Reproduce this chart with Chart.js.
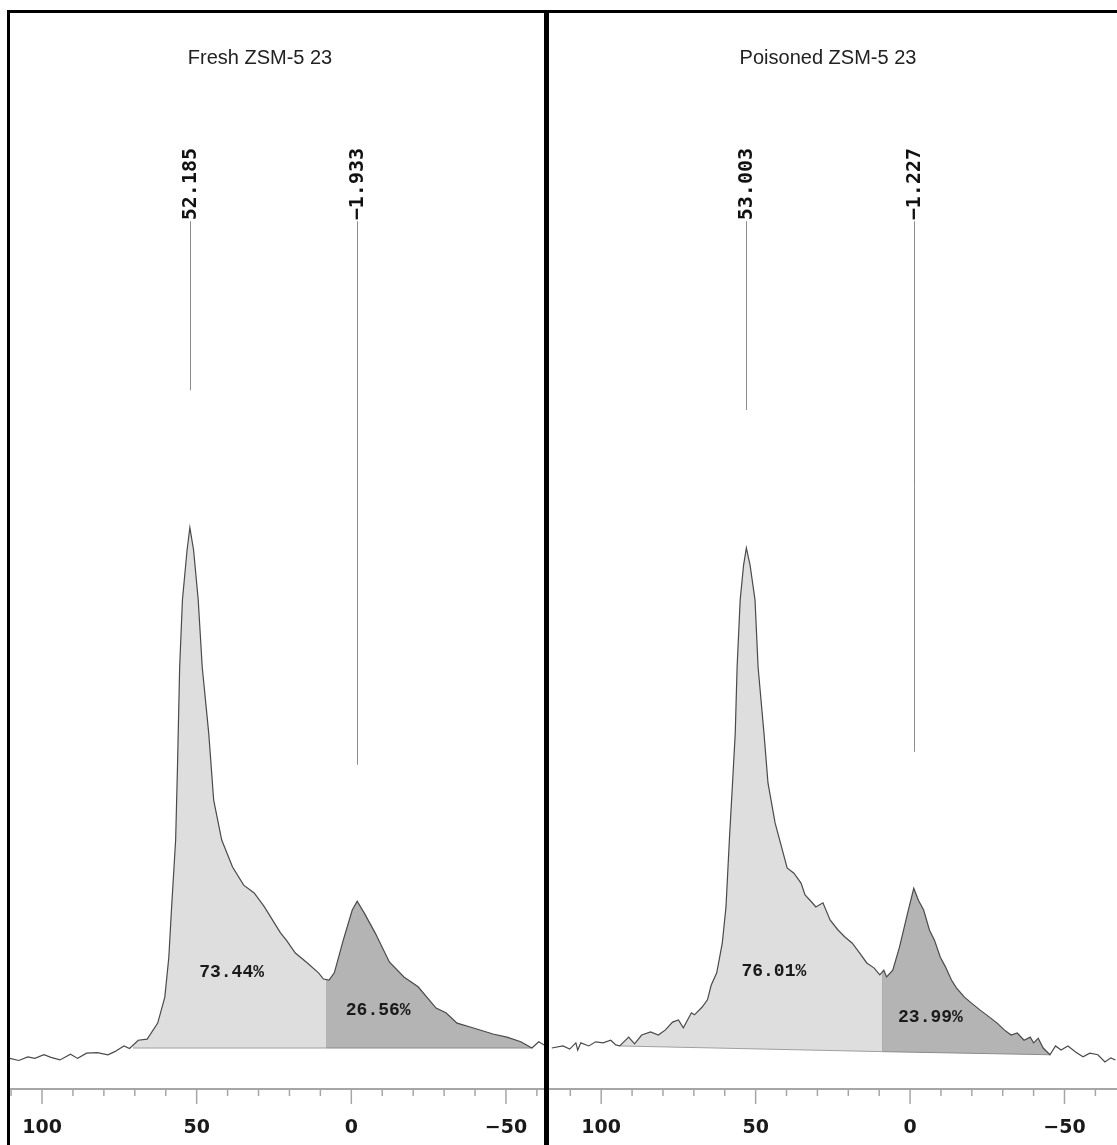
<!DOCTYPE html>
<html>
<head>
<meta charset="utf-8">
<script src="https://cdn.jsdelivr.net/npm/chart.js@4.4.1/dist/chart.umd.min.js"></script>
<style>
  html, body { margin: 0; padding: 0; background: #fff; }
  body { width: 1117px; height: 1145px; position: relative; overflow: hidden; }
  canvas { position: absolute; }
  #frame { position: absolute; left: 7px; top: 10px; width: 1200px; height: 1200px;
           border-left: 3px solid #000; border-top: 3px solid #000; box-sizing: border-box; }
  #divider { position: absolute; left: 544px; top: 10px; width: 5px; height: 1140px; background: #000; }
</style>
</head>
<body>
<canvas id="fresh" width="536" height="1135" style="left:8px;top:10px"></canvas>
<canvas id="poisoned" width="568" height="1135" style="left:549px;top:10px"></canvas>
<div id="frame"></div>
<div id="divider"></div>
<script>
// chemical shift (ppm) and intensity (a.u.)
const freshPpm = [110.4, 107.5, 104.6, 102.3, 99.4, 97.1, 94.2, 90.8, 88.5, 85.6,
  82.1, 78.7, 76.5, 73.5, 71.7, 68.9, 66.0, 62.6, 60.3, 59.0,
  58.1, 56.8, 56.2, 55.5, 54.6, 53.1, 52.2, 51.0, 49.5, 48.2,
  46.1, 44.5, 41.9, 38.4, 34.8, 31.4, 28.1, 22.9, 21.0, 18.1,
  14.2, 10.6, 9.0, 7.2, 5.5, 2.6, -0.3, -1.9, -4.2, -7.7,
  -12.3, -17.0, -21.6, -27.4, -30.6, -34.2, -38.7, -45.8, -50.3, -54.8,
  -58.4, -60.6, -63.5];
const freshIntensity = [-2.1, -2.5, -1.8, -2.1, -1.4, -1.9, -2.4, -1.3, -2.1, -1.1,
  -1.0, -1.4, -0.8, 0.3, -0.2, 1.4, 1.6, 4.7, 9.7, 17.4,
  27.1, 40.0, 54.1, 73.3, 86.3, 95.9, 100.2, 95.9, 86.3, 73.3,
  60.6, 47.7, 40.0, 34.8, 31.3, 29.8, 27.1, 22.1, 20.7, 18.2,
  16.3, 14.4, 13.2, 13.0, 14.4, 20.7, 26.5, 28.2, 25.9, 22.1,
  16.5, 13.6, 11.7, 7.6, 6.7, 4.7, 3.9, 2.6, 2.0, 1.1,
  -0.1, 1.1, 0.1];

const poisonedPpm = [116.0, 112.4, 110.2, 108.2, 107.6, 106.6, 104.0, 101.8, 99.4, 96.9,
  95.3, 94.0, 91.1, 89.2, 86.9, 84.0, 81.5, 79.2, 76.9, 75.0,
  73.4, 70.8, 69.8, 67.3, 65.6, 64.4, 62.6, 60.8, 59.6, 58.5,
  57.3, 56.6, 56.0, 55.0, 53.9, 53.0, 51.8, 50.2, 49.2, 47.3,
  46.0, 43.7, 41.1, 39.8, 37.6, 35.3, 34.0, 31.8, 30.5, 28.2,
  25.9, 23.4, 21.1, 18.7, 16.3, 14.0, 11.6, 9.8, 8.5, 7.6,
  5.6, 3.4, 0.8, -1.2, -2.7, -4.4, -6.3, -7.9, -9.8, -11.5,
  -13.4, -15.0, -17.6, -19.8, -22.7, -25.6, -28.2, -30.5, -32.7, -34.7,
  -36.9, -38.9, -40.0, -41.5, -43.1, -45.3, -47.1, -48.9, -51.1, -53.7,
  -56.0, -58.2, -60.8, -63.1, -65.0, -66.5];
const poisonedIntensity = [-0.1, 0.3, -0.3, 0.9, -0.5, 0.9, 0.3, 1.1, 0.9, 1.4,
  0.5, 0.3, 2.0, 0.7, 2.4, 3.0, 2.4, 3.4, 4.9, 5.3,
  3.8, 6.7, 6.3, 7.8, 9.2, 12.0, 14.4, 20.1, 27.1, 40.0,
  52.9, 60.6, 73.3, 86.3, 93.0, 96.3, 93.0, 86.3, 73.3, 60.6,
  51.0, 43.3, 37.5, 34.6, 33.6, 31.7, 29.4, 28.0, 27.1, 27.9,
  24.6, 22.7, 21.3, 20.1, 18.2, 16.3, 15.3, 14.0, 14.9, 13.6,
  14.9, 19.4, 25.9, 30.7, 28.4, 26.5, 22.6, 20.7, 17.4, 15.5,
  13.0, 11.5, 9.7, 8.6, 7.2, 5.9, 4.7, 3.4, 2.4, 2.8,
  1.4, 2.0, 0.9, 1.8, -0.1, -1.4, 0.3, -0.5, 0.3, -0.9,
  -1.8, -1.1, -1.4, -2.8, -2.0, -2.4];

// integration regions: start, split, end (ppm) and baseline intensity there
const freshRegion = [70.6, 8.1, -58.4];
const freshRegionBase = [-0.1, -0.1, -0.1];
const poisonedRegion = [94.0, 8.9, -45.3];
const poisonedRegionBase = [0.3, -0.8, -1.4];

const freshAreas = ["73.44%", "26.56%"];
const freshAreaPpm = [38.7, -8.7];
const freshAreaY = [14.4, 7.2];
const poisonedAreas = ["76.01%", "23.99%"];
const poisonedAreaPpm = [44.1, -6.6];
const poisonedAreaY = [14.6, 5.7];

// picked peaks and where their leader lines stop
const freshPeaks = [52.185, -1.933];
const freshPeakEnds = [126.7, 54.5];
const poisonedPeaks = [53.003, -1.227];
const poisonedPeakEnds = [122.9, 57.0];

const majorTicks = [100, 50, 0, -50];
const tickLabels = ["100", "50", "0", "\u221250"];
const minorTicks = [110, 90, 80, 70, 60, 40, 30, 20, 10, -10, -20, -30, -40, -60];

function curveAt(xs, ys, p) {
  for (let i = 0; i < xs.length - 1; i++) {
    const a = xs[i], b = xs[i + 1];
    if ((p <= a && p >= b) || (p >= a && p <= b)) {
      const t = (p - a) / (b - a);
      return ys[i] + t * (ys[i + 1] - ys[i]);
    }
  }
  return 0;
}

function regionPoints(xs, ys, hi, lo) {
  const pts = [{x: hi, y: curveAt(xs, ys, hi)}];
  xs.forEach((x, i) => { if (x < hi && x > lo) pts.push({x: x, y: ys[i]}); });
  pts.push({x: lo, y: curveAt(xs, ys, lo)});
  return pts.sort((a, b) => a.x - b.x);
}

function decor(p) {
  return {
    id: 'decor',
    afterDraw(chart) {
      const ctx = chart.ctx, area = chart.chartArea;
      const x = chart.scales.x, y = chart.scales.y;
      ctx.save();

      // ppm axis
      ctx.strokeStyle = '#a6a6a6';
      ctx.lineWidth = 2;
      ctx.beginPath();
      ctx.moveTo(area.left, area.bottom);
      ctx.lineTo(area.right, area.bottom);
      ctx.stroke();
      ctx.lineWidth = 1.5;
      minorTicks.forEach(v => {
        const px = x.getPixelForValue(v);
        ctx.beginPath(); ctx.moveTo(px, area.bottom); ctx.lineTo(px, area.bottom + 7); ctx.stroke();
      });
      majorTicks.forEach(v => {
        const px = x.getPixelForValue(v);
        ctx.beginPath(); ctx.moveTo(px, area.bottom); ctx.lineTo(px, area.bottom + 15); ctx.stroke();
      });
      ctx.fillStyle = '#1a1a1a';
      ctx.font = 'bold 19px "DejaVu Sans"';
      ctx.textAlign = 'center';
      ctx.textBaseline = 'middle';
      majorTicks.forEach((v, i) => ctx.fillText(tickLabels[i], x.getPixelForValue(v), area.bottom + 39));

      // title
      ctx.fillStyle = '#222';
      ctx.font = '20px "Liberation Sans"';
      ctx.fillText(p.title, p.titleX, 48);

      // peak labels, leader line starts where the text ends
      p.peaks.forEach((v, i) => {
        const px = Math.round(x.getPixelForValue(v)) + 0.5;
        const top = y.getPixelForValue(p.labelTop);
        const label = v.toFixed(3).replace('-', '\u2212');
        ctx.font = 'bold 20px "DejaVu Sans Mono"';
        const len = ctx.measureText(label).width;
        ctx.strokeStyle = '#8c8c8c';
        ctx.lineWidth = 1;
        ctx.beginPath();
        ctx.moveTo(px, top + len + 1);
        ctx.lineTo(px, y.getPixelForValue(p.peakEnds[i]));
        ctx.stroke();
        ctx.save();
        ctx.translate(px, top);
        ctx.rotate(-Math.PI / 2);
        ctx.textAlign = 'right';
        ctx.textBaseline = 'middle';
        ctx.fillStyle = '#111';
        ctx.fillText(label, 0, 0);
        ctx.restore();
      });

      // integrals
      ctx.fillStyle = '#1a1a1a';
      ctx.font = 'bold 18px "Liberation Mono"';
      ctx.textAlign = 'center';
      ctx.textBaseline = 'middle';
      p.areas.forEach((t, i) => ctx.fillText(t, x.getPixelForValue(p.areaPpm[i]), y.getPixelForValue(p.areaY[i])));
      ctx.restore();
    }
  };
}

function buildPanel(id, p) {
  const spectrum = p.ppm.map((v, i) => ({x: v, y: p.intensity[i]})).sort((a, b) => a.x - b.x);
  const start = p.region[0], split = p.region[1], end = p.region[2];
  const splitTop = curveAt(p.ppm, p.intensity, split);
  const none = 'rgba(0,0,0,0)';
  new Chart(document.getElementById(id), {
    type: 'line',
    data: {
      datasets: [
        { data: spectrum, borderColor: '#4a4a4a', borderWidth: 1.2, pointRadius: 0, fill: false },
        { data: [{x: split, y: p.base[1]}, {x: start, y: p.base[0]}], borderColor: '#a0a0a0', borderWidth: 1, pointRadius: 0, fill: false },
        { data: [{x: end, y: p.base[2]}, {x: split, y: p.base[1]}], borderColor: '#8c8c8c', borderWidth: 1, pointRadius: 0, fill: false },
        { data: regionPoints(p.ppm, p.intensity, start, split), borderColor: none, borderWidth: 0, pointRadius: 0, backgroundColor: '#dedede', fill: 1 },
        { data: regionPoints(p.ppm, p.intensity, split, end), borderColor: none, borderWidth: 0, pointRadius: 0, backgroundColor: '#b4b4b4', fill: 2 },
        { data: [{x: split, y: p.base[1]}, {x: split, y: splitTop}], borderColor: '#8a8a8a', borderWidth: 1, pointRadius: 0, fill: false }
      ]
    },
    options: {
      responsive: false,
      animation: false,
      events: [],
      layout: { padding: { bottom: 56 } },
      plugins: { legend: { display: false }, tooltip: { enabled: false } },
      scales: {
        x: { type: 'linear', reverse: true, min: p.xMin, max: p.xMax, display: false },
        y: { min: -8, max: 200, display: false }
      }
    },
    plugins: [decor(p)]
  });
}

buildPanel('fresh', {
  title: 'Fresh ZSM-5 23', titleX: 252,
  ppm: freshPpm, intensity: freshIntensity,
  region: freshRegion, base: freshRegionBase,
  peaks: freshPeaks, peakEnds: freshPeakEnds, labelTop: 173.4,
  areas: freshAreas, areaPpm: freshAreaPpm, areaY: freshAreaY,
  xMin: -62.3, xMax: 111.0
});

buildPanel('poisoned', {
  title: 'Poisoned ZSM-5 23', titleX: 279,
  ppm: poisonedPpm, intensity: poisonedIntensity,
  region: poisonedRegion, base: poisonedRegionBase,
  peaks: poisonedPeaks, peakEnds: poisonedPeakEnds, labelTop: 173.4,
  areas: poisonedAreas, areaPpm: poisonedAreaPpm, areaY: poisonedAreaY,
  xMin: -67.0, xMax: 116.9
});
</script>
</body>
</html>
